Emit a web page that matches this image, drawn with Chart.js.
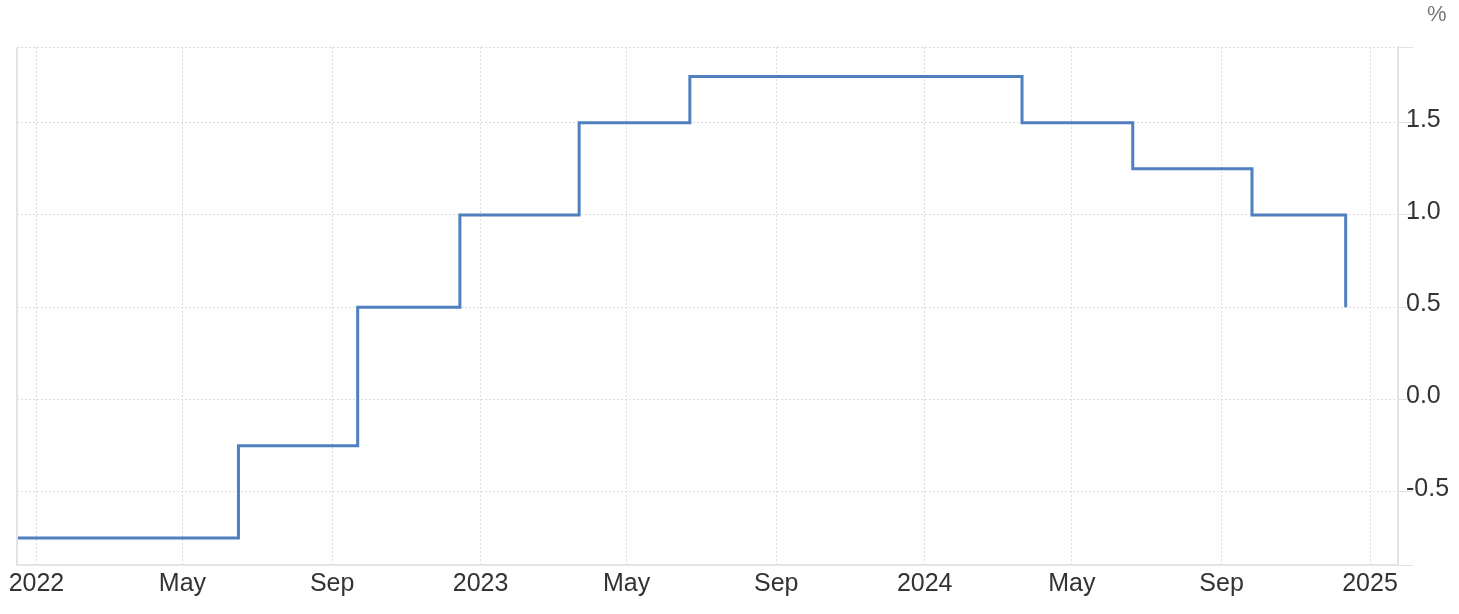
<!DOCTYPE html>
<html>
<head>
<meta charset="utf-8">
<script src="https://cdn.jsdelivr.net/npm/chart.js@4"></script>
<style>
  html, body { margin: 0; padding: 0; background: #fff; }
  #wrap { position: relative; width: 1459px; height: 614px; }
  #unit { position: absolute; left: 1427px; top: 1px; font: 22px "Liberation Sans", Arial, sans-serif; color: #777; }
</style>
</head>
<body>
<div id="wrap">
  <canvas id="rateChart" width="1459" height="614"></canvas>
  <div id="unit">%</div>
</div>
<script>
// policy rate changes (date of change, new rate in %)
const changeDates = ['2021-12-16', '2022-06-16', '2022-09-22', '2022-12-15', '2023-03-23',
                     '2023-06-22', '2024-03-21', '2024-06-20', '2024-09-26', '2024-12-12'];
const rateValues = [-0.75, -0.25, 0.5, 1.0, 1.5, 1.75, 1.5, 1.25, 1.0, 0.5];

const xTickDates = ['2022-01-01', '2022-05-01', '2022-09-01', '2023-01-01', '2023-05-01',
                    '2023-09-01', '2024-01-01', '2024-05-01', '2024-09-01', '2025-01-01'];
const xTickLabels = ['2022', 'May', 'Sep', '2023', 'May', 'Sep', '2024', 'May', 'Sep', '2025'];
const yTickValues = [-0.5, 0, 0.5, 1.0, 1.5];

const xMin = Date.parse('2021-12-16');
const xMax = Date.parse('2025-01-24');
const yMin = -0.896;
const yMax = 1.91;

const xTicks = xTickDates.map(d => Date.parse(d));
const points = changeDates.map((d, i) => ({ x: Date.parse(d), y: rateValues[i] }));

// left frame line
const leftBorder = {
    id: 'leftBorder',
    afterDraw(chart) {
        const a = chart.chartArea;
        const ctx = chart.ctx;
        ctx.save();
        ctx.strokeStyle = '#e3e3e3';
        ctx.lineWidth = 2;
        ctx.beginPath();
        ctx.moveTo(a.left, a.top);
        ctx.lineTo(a.left, a.bottom);
        ctx.stroke();
        ctx.restore();
    }
};

const font = { family: '"Liberation Sans", Arial, sans-serif', size: 25 };

const ctx = document.getElementById('rateChart').getContext('2d');
const rateChart = new Chart(ctx, {
    type: 'line',
    data: {
        datasets: [{
            data: points,
            borderColor: '#4f7fbe',
            borderWidth: 3,
            pointRadius: 0,
            stepped: 'before',
            fill: false
        }]
    },
    options: {
        responsive: false,
        animation: false,
        layout: { padding: { left: 17, top: 47, right: 0, bottom: 11 } },
        plugins: { legend: { display: false }, tooltip: { enabled: false } },
        scales: {
            x: {
                type: 'linear',
                min: xMin,
                max: xMax,
                afterBuildTicks: axis => { axis.ticks = xTicks.map(v => ({ value: v })); },
                ticks: {
                    autoSkip: false,
                    maxRotation: 0,
                    color: '#333',
                    font: font,
                    padding: 4,
                    callback: (v) => xTickLabels[xTicks.indexOf(v)]
                },
                grid: { color: '#dcdcdc', lineWidth: 1, drawTicks: false },
                border: { color: '#e3e3e3', width: 2, dash: [2, 2] }
            },
            y: {
                position: 'right',
                min: yMin,
                max: yMax,
                afterBuildTicks: axis => {
                    axis.ticks = [yMin].concat(yTickValues, [yMax]).map(v => ({ value: v }));
                },
                ticks: {
                    color: '#333',
                    font: font,
                    padding: -7,
                    labelOffset: -3,
                    callback: (v) => yTickValues.includes(v) ? v.toFixed(1) : ''
                },
                grid: { color: '#dcdcdc', lineWidth: 1, tickLength: 15, tickColor: '#e3e3e3', tickBorderDash: [] },
                border: { color: '#e3e3e3', width: 2, dash: [2, 2] },
                afterFit: axis => { axis.width = 61; }
            }
        }
    },
    plugins: [leftBorder]
});
</script>
</body>
</html>
